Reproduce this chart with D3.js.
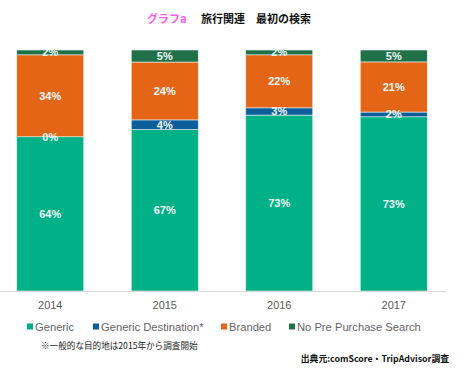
<!doctype html>
<html>
<head>
<meta charset="utf-8">
<script src="https://d3js.org/d3.v7.min.js"></script>
<style>
body { margin:0; background:#fff; }
text { font-family: "Liberation Sans", Arial, sans-serif; }
</style>
</head>
<body>
<script>
var width = 467, height = 371;

// data
var years = ['2014', '2015', '2016', '2017'];
var seriesNames = ['Generic', 'Generic Destination*', 'Branded', 'No Pre Purchase Search'];
var generic = [64, 67, 73, 73];
var genericDest = [0, 4, 3, 2];
var branded = [34, 24, 22, 21];
var noPre = [2, 5, 2, 5];
var colors = ['#00b086', '#0c5e9b', '#e46516', '#20704a'];

var rows = years.map(function(y, i) {
	return {year: y, 'Generic': generic[i], 'Generic Destination*': genericDest[i],
		'Branded': branded[i], 'No Pre Purchase Search': noPre[i]};
});

var svg = d3.select('body').append('svg').attr('width', width).attr('height', height);

// title
var title = svg.append('text').attr('x', 147).attr('y', 23).style('font-size', '11px').style('font-weight', 'bold')
	.style('font-family', '"Noto Sans CJK JP", sans-serif');
title.append('tspan').attr('fill', '#ff5cf0').text('グラフa');
title.append('tspan').attr('x', 201).attr('fill', '#111').text('旅行関連　最初の検索');

var xScale = d3.scaleBand().domain(years).range([-7, 451]).paddingInner(0.415).paddingOuter(0.2075);
var yScale = d3.scaleLinear().domain([0, 1]).range([291, 50]);

var stack = d3.stack().keys(seriesNames).offset(d3.stackOffsetExpand);
var stacked = stack(rows);

var layers = svg.append('g').selectAll('g').data(stacked).enter().append('g')
	.attr('fill', function(d, i) { return colors[i]; });

layers.selectAll('rect').data(function(d) { return d; }).enter().append('rect')
	.attr('x', function(d) { return xScale(d.data.year); })
	.attr('width', xScale.bandwidth())
	.attr('y', function(d) { return yScale(d[1]); })
	.attr('height', function(d) { return yScale(d[0]) - yScale(d[1]); })
	.attr('stroke', '#e8f3ef').attr('stroke-width', 0.6);

// value labels
stacked.forEach(function(layer) {
	svg.append('g').selectAll('text').data(layer).enter().append('text')
		.attr('x', function(d) { return xScale(d.data.year) + xScale.bandwidth() / 2; })
		.attr('y', function(d) { return (yScale(d[0]) + yScale(d[1])) / 2 + 4; })
		.attr('text-anchor', 'middle')
		.attr('fill', '#f2fbf8')
		.style('font-size', '11px').style('font-weight', 'bold')
		.text(function(d) { return d.data[layer.key] + '%'; });
});

// x axis
var xAxis = d3.axisBottom(xScale).tickSize(0).tickPadding(10);
var ax = svg.append('g').attr('transform', 'translate(0,291)').call(xAxis);
ax.select('.domain').remove();
ax.selectAll('text').attr('fill', '#595959').style('font-size', '11px')
	.style('font-family', '"Liberation Sans", Arial, sans-serif');
svg.append('line').attr('x1', 0).attr('x2', 446).attr('y1', 291.5).attr('y2', 291.5)
	.attr('stroke', '#d9d9d9').attr('stroke-width', 1);

// legend
var legendX = [27, 93, 221, 289];
var legend = svg.append('g').selectAll('g').data(seriesNames).enter().append('g')
	.attr('transform', function(d, i) { return 'translate(' + legendX[i] + ',327)'; });
legend.append('rect').attr('x', 0).attr('y', -3.5).attr('width', 6).attr('height', 6)
	.attr('fill', function(d, i) { return colors[i]; });
legend.append('text').attr('x', 8).attr('y', 4).attr('fill', '#666')
	.style('font-size', '11.2px').text(function(d) { return d; });

// notes
svg.append('text').attr('x', 41).attr('y', 349).attr('fill', '#222')
	.style('font-size', '8.6px').style('font-family', '"Noto Sans CJK JP", sans-serif')
	.text('※一般的な目的地は2015年から調査開始');
svg.append('text').attr('x', 449).attr('y', 362).attr('text-anchor', 'end').attr('fill', '#111')
	.style('font-size', '8.8px').style('font-weight', 'bold').style('font-family', '"Noto Sans CJK JP", sans-serif')
	.text('出典元:comScore・TripAdvisor調査');
</script>
</body>
</html>
